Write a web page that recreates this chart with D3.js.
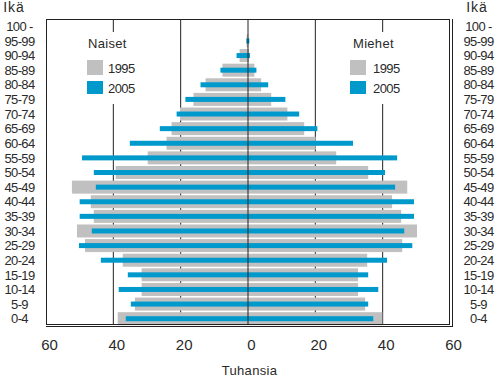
<!DOCTYPE html>
<html>
<head>
<meta charset="utf-8">
<script src="https://cdn.jsdelivr.net/npm/d3@7"></script>
<style>
  body { margin: 0; background: #fff; }
  svg { display: block; }
  .age { font-family: "Liberation Sans", Arial, sans-serif; font-size: 13px; letter-spacing: -0.6px; fill: #2a2a2a; }
  .lab { font-family: "Liberation Sans", Arial, sans-serif; fill: #2a2a2a; }
</style>
</head>
<body>
<script>
const ages = ["0-4","5-9","10-14","15-19","20-24","25-29","30-34","35-39","40-44","45-49","50-54","55-59","60-64","65-69","70-74","75-79","80-84","85-89","90-94","95-99","100 -"];
const women1995 = [38.7, 33.6, 31.6, 31.6, 37.2, 48.4, 50.8, 45.8, 46.7, 52.3, 39.3, 29.8, 24.2, 22.7, 20.2, 16.2, 12.6, 7.6, 2.5, 0.4, 0];
const women2005 = [36.3, 34.8, 38.4, 35.7, 43.7, 50.2, 46.4, 50.0, 50.0, 45.2, 45.8, 49.3, 35.1, 26.2, 21.2, 18.6, 14.1, 8.2, 3.4, 0.5, 0];
const men1995   = [39.9, 34.8, 32.7, 32.7, 35.4, 45.8, 50.2, 45.5, 42.8, 47.3, 35.7, 26.2, 20.1, 16.7, 11.7, 6.9, 3.9, 1.9, 0.3, 0.1, 0];
const men2005   = [37.2, 35.7, 38.7, 35.7, 41.3, 48.8, 46.4, 49.3, 49.3, 43.7, 40.7, 44.3, 31.2, 20.6, 15.2, 11.1, 6.0, 2.5, 0.6, 0.4, 0];
const xTicks = [-60, -40, -20, 0, 20, 40, 60];
const years = ["1995", "2005"];
const titles = ["Naiset", "Miehet"];
const axisTitle = "Tuhansia";
const ageTitle = "Ikä";

const GRAY = "#c0c0c0", BLUE = "#0099cc", INK = "#222";
const W = 496, H = 379;
const L = 46, R = 450, T = 19, B = 324;

const svg = d3.select("body").append("svg").attr("width", W).attr("height", H);

const x = d3.scaleLinear().domain([-60, 60]).range([L, R]);
const y = d3.scaleBand().domain(ages.slice().reverse()).range([T, 326]).paddingInner(0.11).paddingOuter(0.055);

// grid lines behind
const grid = svg.append("g");
grid.selectAll("line").data([-40, -20, 20, 40]).join("line")
  .attr("x1", d => x(d)).attr("x2", d => x(d))
  .attr("y1", T).attr("y2", B)
  .attr("stroke", INK).attr("stroke-width", 1);

// bars
const rows = ages.map((a, i) => ({ age: a, w95: women1995[i], w05: women2005[i], m95: men1995[i], m05: men2005[i] }));
const bw = y.bandwidth();
const thin = 5;

const g = svg.append("g");
g.selectAll(".gw").data(rows).join("rect")
  .attr("x", d => x(-d.w95)).attr("width", d => x(0) - x(-d.w95))
  .attr("y", d => y(d.age)).attr("height", bw).attr("fill", GRAY);
g.selectAll(".gm").data(rows).join("rect")
  .attr("x", x(0)).attr("width", d => x(d.m95) - x(0))
  .attr("y", d => y(d.age)).attr("height", bw).attr("fill", GRAY);
g.selectAll(".bw").data(rows).join("rect")
  .attr("x", d => x(-d.w05)).attr("width", d => x(0) - x(-d.w05))
  .attr("y", d => y(d.age) + bw / 2 - thin / 2).attr("height", thin).attr("fill", BLUE);
g.selectAll(".bm").data(rows).join("rect")
  .attr("x", x(0)).attr("width", d => x(d.m05) - x(0))
  .attr("y", d => y(d.age) + bw / 2 - thin / 2).attr("height", thin).attr("fill", BLUE);

// legends (white boxes hide grid)
const legends = [
  { title: titles[0], bx: 70, tx: 88, rx: 87, lx: 108 },
  { title: titles[1], bx: 335, tx: 353, rx: 350, lx: 373 }
];
legends.forEach(lg => {
  svg.append("rect").attr("x", lg.bx).attr("y", 32).attr("width", 85).attr("height", 72).attr("fill", "#fff");
  svg.append("text").attr("class", "lab").attr("x", lg.tx).attr("y", 48).attr("font-size", 13).attr("letter-spacing", "0.3px").text(lg.title);
  svg.append("rect").attr("x", lg.rx).attr("y", 60).attr("width", 16).attr("height", 15).attr("fill", GRAY);
  svg.append("rect").attr("x", lg.rx).attr("y", 81).attr("width", 16).attr("height", 13).attr("fill", BLUE);
  svg.append("text").attr("class", "age").attr("x", lg.lx).attr("y", 72.5).text(years[0]);
  svg.append("text").attr("class", "age").attr("x", lg.lx).attr("y", 93).text(years[1]);
});

// center axis line on top
svg.append("line").attr("x1", x(0)).attr("x2", x(0)).attr("y1", T).attr("y2", B).attr("stroke", INK);

// frame
svg.append("rect").attr("x", L + 0.5).attr("y", T + 0.5).attr("width", R - L - 1).attr("height", B - T).attr("fill", "none").attr("stroke", INK);
svg.append("line").attr("x1", R + 2.5).attr("x2", R + 2.5).attr("y1", T).attr("y2", B + 3).attr("stroke", INK);
svg.append("line").attr("x1", L).attr("x2", R + 3).attr("y1", B + 2.5).attr("y2", B + 2.5).attr("stroke", INK);

// age labels
["left", "right"].forEach(side => {
  const cx = side === "left" ? 19.5 : 478.5;
  svg.append("g").selectAll("text").data(ages).join("text")
    .attr("class", "age").attr("text-anchor", "middle")
    .attr("x", cx).attr("y", d => y(d) + bw / 2).attr("dy", "0.36em")
    .text(d => d);
  svg.append("text").attr("class", "lab").attr("text-anchor", "middle")
    .attr("x", side === "left" ? 14 : 477).attr("y", 12).attr("font-size", 14).attr("letter-spacing", "1px").text(ageTitle);
});

// bottom axis
const ax = d3.axisBottom(x).tickValues(xTicks).tickSize(0).tickPadding(0).tickFormat(d => Math.abs(d));
const axg = svg.append("g").attr("transform", `translate(3, 339)`).call(ax);
axg.select(".domain").remove();
axg.selectAll("text").attr("class", "lab").attr("font-size", 15).attr("fill", "#2a2a2a").attr("font-family", "Liberation Sans, Arial, sans-serif");

svg.append("text").attr("class", "lab").attr("text-anchor", "middle").attr("x", 249.5).attr("y", 375).attr("font-size", 13).attr("letter-spacing", "0.3px").text(axisTitle);
</script>
</body>
</html>
